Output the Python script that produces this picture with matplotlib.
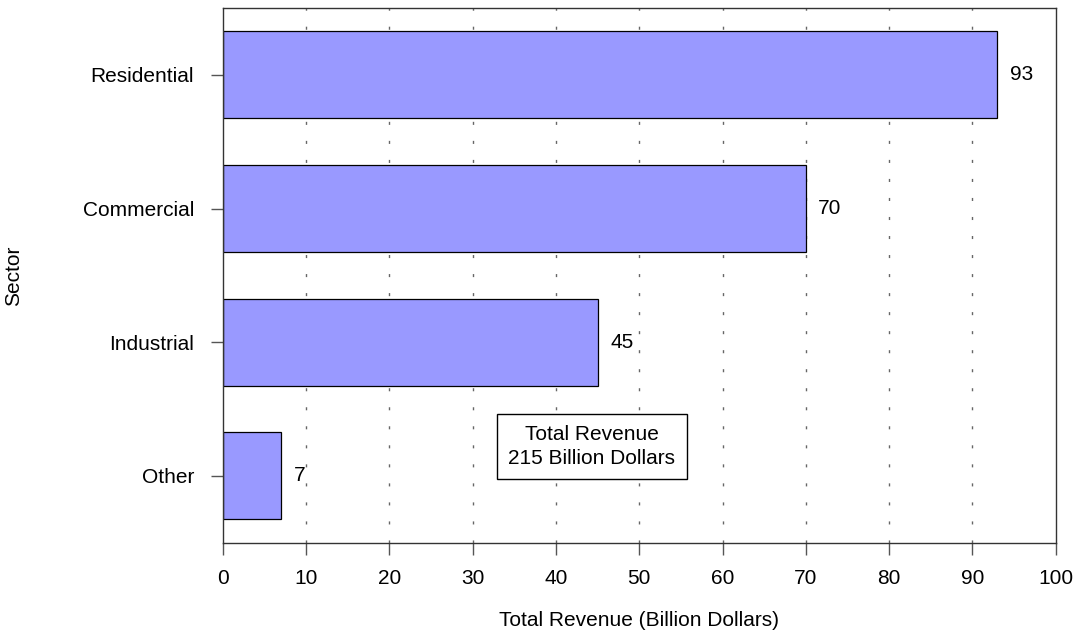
import matplotlib
matplotlib.use("Agg")
import matplotlib.pyplot as plt

sectors = ["Other", "Industrial", "Commercial", "Residential"]
revenue = [7, 45, 70, 93]
x_ticks = [0, 10, 20, 30, 40, 50, 60, 70, 80, 90, 100]
grid_x = [10, 20, 30, 40, 50, 60, 70, 80, 90]
box_text = "Total Revenue\n215 Billion Dollars"

plt.rcParams['font.family'] = ['Liberation Sans', 'DejaVu Sans']
FS = 15

fig = plt.figure(figsize=(10.77, 6.35), dpi=100)
ax = fig.add_axes([222.7/1077, 1-542.7/635, (1055.7-222.7)/1077, (542.7-8)/635])

ypos = list(range(len(sectors)))
for gx in grid_x:
    ax.axvline(gx, color='#666666', lw=1.0, linestyle=(0, (2.2, 11.5)), zorder=0)

ax.barh(ypos, revenue, height=0.65, color='#9999FF', edgecolor='black', linewidth=0.9, zorder=2)
for y, v in zip(ypos, revenue):
    ax.annotate(str(v), xy=(v, y), xytext=(9, 0), textcoords='offset points',
                ha='left', va='center', fontsize=FS, color='black')

ax.set_xlim(0, 100)
ax.set_ylim(-0.5, 3.5)
ax.set_xticks(x_ticks)
ax.set_xticklabels([str(t) for t in x_ticks], fontsize=FS)
ax.set_yticks(ypos)
ax.set_yticklabels(sectors, fontsize=FS)
ax.tick_params(axis='x', length=8.6, width=1, color='#555555', pad=10)
ax.tick_params(axis='y', length=8.6, width=1, color='#555555', pad=12)
for s in ax.spines.values():
    s.set_color('#333333')
    s.set_linewidth(1.0)

ax.set_xlabel("Total Revenue (Billion Dollars)", fontsize=FS, labelpad=17)
ax.set_ylabel("Sector", fontsize=FS)
ax.yaxis.set_label_coords((23 - 222.7) / (1055.7 - 222.7), 0.5)

ax.text(44.3, 0.22, box_text, ha='center', va='center', fontsize=FS, linespacing=1.3,
        bbox=dict(boxstyle='square,pad=0.55', facecolor='white', edgecolor='black', linewidth=1.0),
        zorder=3)

fig.savefig("out.png", dpi=100)
